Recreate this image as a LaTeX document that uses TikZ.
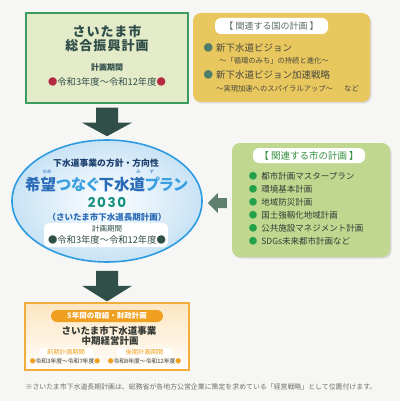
\documentclass[tikz,border=0pt]{standalone}
\usepackage{fontspec}
\setmainfont{Noto Sans CJK JP}
\newfontfamily\numfont{Poppins}
\usetikzlibrary{positioning,calc,shadows,shapes.geometric}
\newcommand{\fz}[1]{\fontsize{#1pt}{#1pt}\selectfont}
\definecolor{bg}{HTML}{F6F6F4}
\definecolor{tlfill}{HTML}{E3EBC9}
\definecolor{tlline}{HTML}{3C9C5E}
\definecolor{slate}{HTML}{2F4D48}
\definecolor{reddot}{HTML}{B52A40}
\definecolor{natfill}{HTML}{E8C75E}
\definecolor{natlbl}{HTML}{5B6E66}
\definecolor{natdot}{HTML}{4F7D6C}
\definecolor{natsub}{HTML}{4A4A40}
\definecolor{arrowdk}{HTML}{2F4F48}
\definecolor{arrowlt}{HTML}{5E7F6E}
\definecolor{visline}{HTML}{2C9BE0}
\definecolor{visfill}{HTML}{C8E3F5}
\definecolor{visnavy}{HTML}{1D3F6E}
\definecolor{visdark}{HTML}{2A6CB8}
\definecolor{vislight}{HTML}{3A9FE0}
\definecolor{visteal}{HTML}{169080}
\definecolor{cityfill}{HTML}{BFD78F}
\definecolor{citylbl}{HTML}{35903F}
\definecolor{citydot}{HTML}{23A04A}
\definecolor{citytxt}{HTML}{353A35}
\definecolor{midline}{HTML}{F2AE3C}
\definecolor{midfill}{HTML}{FCE6C2}
\definecolor{midorg}{HTML}{F0A020}
\definecolor{note}{HTML}{6E6E6E}

\begin{document}
\begin{tikzpicture}[x=1pt,y=-1pt,
  box/.style={minimum width=#1,inner sep=0pt},
  shd/.style={drop shadow={shadow xshift=1.5pt,shadow yshift=-1.5pt,opacity=0.25}},
  lbl/.style={fill=white,rounded corners=6pt,inner sep=0pt},
  txt/.style={inner sep=0pt,align=center},
  itm/.style={inner sep=0pt,anchor=west},
  blk/.style={fill=arrowdk}]
\useasboundingbox[fill=bg] (0,0) rectangle (400,401);

% top left: overall plan
\node[box=162pt,minimum height=90pt,draw=tlline,line width=1.3pt,fill=tlfill] (plan) at (107,58) {};
\node[txt,font=\fz{13}\bfseries\addfontfeatures{LetterSpace=8},text=slate] (planA) at (107,32) {さいたま市};
\node[txt,font=\fz{13}\bfseries\addfontfeatures{LetterSpace=8},text=slate] (planB) at (107,46) {総合振興計画};
\node[txt,font=\fz{8}\bfseries,text=slate] (planC) at (107,67) {計画期間};
\node[txt,font=\fz{9.3},text=slate] (planD) at (107,82) {{\color{reddot}●}令和3年度～令和12年度{\color{reddot}●}};

% top right: national plans
\node[box=177pt,minimum height=89pt,fill=natfill,rounded corners=8pt,shd] (nat) at (281.5,57.5) {};
\node[lbl,minimum width=113pt,minimum height=16pt,font=\fz{9},text=natlbl] (natL) at (271.5,26) {【 関連する国の計画 】};
\node[itm,font=\fz{9.5},text=natsub] (natA) at (203.3,48) {{\color{natdot}●}\hspace{3pt}新下水道ビジョン};
\node[itm,font=\fz{7.3},text=natsub] (natB) at (219,60.5) {～「循環のみち」の持続と進化～};
\node[itm,font=\fz{9.5},text=natsub] (natC) at (203.3,75) {{\color{natdot}●}\hspace{3pt}新下水道ビジョン加速戦略};
\node[itm,font=\fz{7.3},text=natsub] (natD) at (216,88.5) {～実現加速へのスパイラルアップ～};
\node[itm,font=\fz{7.5},text=natsub] (natE) at (344,88.5) {など};

% centre: long-term plan
\node[ellipse,minimum width=190pt,minimum height=122pt,inner sep=0pt,draw=visline,line width=1.6pt,
  inner color=white,outer color=visfill] (vision) at (107,201) {};
\node[txt,font=\fz{8.8}\bfseries,text=visnavy] (visA) at (106,163) {下水道事業の方針・方向性};
\node[txt,font=\fz{4.5},text=visdark] (rubyA) at (47,172) {ゆめ};
\node[txt,font=\fz{4.5},text=visdark] (rubyB) at (145,172) {み\hspace{9pt}ず};
\node[txt,font=\fz{15.5}\bfseries\addfontfeatures{RawFeature=+palt},text=vislight] (visB) at (106.5,185)
  {{\color{visdark}希望}つなぐ{\color{visdark}下水道}プラン};
\node[txt,font=\fz{13.5}\numfont\bfseries\addfontfeatures{LetterSpace=12},text=visteal] (visC) at (107,202) {2030};
\node[txt,font=\fz{8.5}\bfseries,text=visdark] (visD) at (107,217) {（さいたま市下水道長期計画）};
\node[lbl,minimum width=124pt,minimum height=24pt,rounded corners=5pt] (visE) at (106,235) {};
\node[txt,font=\fz{7.5},text=slate] (visF) at (107,229) {計画期間};
\node[txt,font=\fz{9.3},text=slate] (visG) at (107,239.5) {{\color{arrowdk}●}令和3年度～令和12年度{\color{arrowdk}●}};

% right: city plans
\node[box=158pt,minimum height=114pt,fill=cityfill,rounded corners=8pt,shd] (city) at (311,200) {};
\node[lbl,minimum width=112pt,minimum height=15pt,font=\fz{9.5},text=citylbl] (cityL) at (309,155.5) {【 関連する市の計画 】};
\foreach \t [count=\i] in {都市計画マスタープラン,環境基本計画,地域防災計画,国土強靱化地域計画,公共施設マネジメント計画,SDGs未来都市計画など}
  \node[itm,font=\fz{8.5},text=citytxt] (city\i) at (248.7,{176+13*(\i-1)}) {{\color{citydot}●}\hspace{4pt}\t};

% bottom: mid-term management plan
\node[box=164pt,minimum height=67pt,draw=midline,line width=1.2pt,top color=midfill,bottom color=white!95!midfill] (mid) at (107,336.5) {};
\node[lbl,fill=midorg,minimum width=112pt,minimum height=12pt,font=\fz{7.5}\bfseries,text=white] (midL) at (107,316) {5年間の取組・財政計画};
\node[txt,font=\fz{9.5}\bfseries,text=citytxt] (midA) at (109,330.5) {さいたま市下水道事業};
\node[txt,font=\fz{9.5}\bfseries,text=citytxt] (midB) at (110,340.5) {中期経営計画};
\node[lbl,minimum width=54pt,minimum height=9pt,rounded corners=3pt,font=\fz{6.3},text=midorg] (midC) at (66,352.5) {前期計画期間};
\node[lbl,minimum width=55pt,minimum height=9pt,rounded corners=3pt,font=\fz{6.3},text=midorg] (midD) at (144.5,352.5) {後期計画期間};
\node[txt,font=\fz{5.8},text=citytxt] (midE) at (65,361.5) {{\color{midorg}●}令和3年度～令和7年度{\color{midorg}●}};
\node[txt,font=\fz{5.8},text=citytxt] (midF) at (144.5,361.5) {{\color{midorg}●}令和8年度～令和12年度{\color{midorg}●}};

% block arrows
\fill[blk] ($(plan.south)+(-11,4)$) -- ($(plan.south)+(-11,19)$) -- ($(plan.south)+(-25,19)$)
  -- ($(vision.north)+(0,-3)$) -- ($(plan.south)+(25,19)$) -- ($(plan.south)+(11,19)$)
  -- ($(plan.south)+(11,4)$) -- cycle;
\fill[blk] ($(vision.south)+(-11,8)$) -- ($(vision.south)+(-11,23)$) -- ($(vision.south)+(-25,23)$)
  -- ($(mid.north)+(0,-1)$) -- ($(vision.south)+(25,23)$) -- ($(vision.south)+(11,23)$)
  -- ($(vision.south)+(11,8)$) -- cycle;
\fill[arrowlt] ($(city.west)+(-5,-2)$) -- ($(city.west)+(-14,-2)$) -- ($(city.west)+(-14,-7)$)
  -- ($(city.west)+(-24,3)$) -- ($(city.west)+(-14,13)$) -- ($(city.west)+(-14,8)$)
  -- ($(city.west)+(-5,8)$) -- cycle;

% footnote
\node[txt,font=\fz{6.9},text=note] (foot) at (201,387) {※さいたま市下水道長期計画は、総務省が各地方公営企業に策定を求めている「経営戦略」として位置付けます。};
\end{tikzpicture}
\end{document}
